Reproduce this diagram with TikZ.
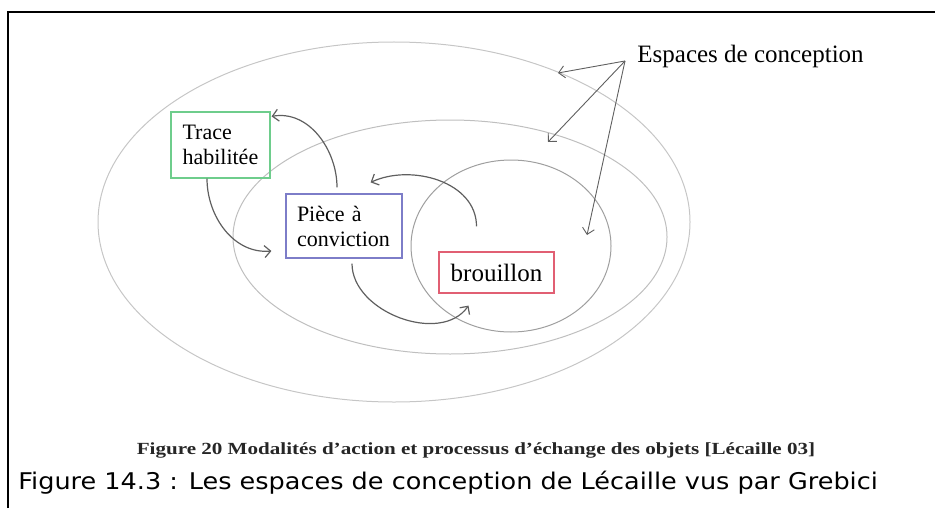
\documentclass[tikz,border=0pt]{standalone}
\usepackage{fontspec}
\setmainfont{Liberation Serif}
\newfontfamily\capfont[FakeStretch=1.11]{DejaVu Sans}
\newfontfamily\figfont[FakeStretch=1.24]{Liberation Serif}
\usetikzlibrary{arrows.meta, positioning}
\definecolor{tracegreen}{RGB}{110,205,140}
\definecolor{pieceblue}{RGB}{125,125,200}
\definecolor{draftred}{RGB}{225,95,115}
\definecolor{flowgray}{RGB}{95,95,95}

\begin{document}
\begin{tikzpicture}[x=0.5pt, y=-0.5pt, >={Straight Barb[length=3pt, width=6pt]},
  box/.style={draw, line width=0.6pt, inner sep=0pt, align=left,
              font=\fontsize{11}{12.5}\selectfont},
  space/.style={line width=0.5pt},
  flow/.style={->, flowgray, line width=0.6pt},
  pointer/.style={->, flowgray, line width=0.45pt}]
  \useasboundingbox (0,0) rectangle (935,508);

  % frame
  \draw[line width=1pt] (8,508) -- (8,12) -- (935,12);

  % design spaces
  \draw[space, gray!45] (394,222) ellipse [x radius=296, y radius=180];
  \draw[space, gray!50] (450,237) ellipse [x radius=217, y radius=117];
  \draw[space, gray!75] (511,246) ellipse [x radius=100, y radius=86];

  % objects
  \node[box, tracegreen, text=black, minimum width=49.5pt, minimum height=33pt,
        text width=38pt] (th) at (220.5,145) {Trace\\habilitée};
  \node[box, pieceblue, text=black, minimum width=58pt, minimum height=32pt,
        text width=47pt] (pc) at (344,226) {Pièce à\\conviction};
  \node[box, draftred, text=black, minimum width=57.5pt, minimum height=20.5pt,
        font=\fontsize{12.5}{14}\selectfont] (br) at (496.5,272.5) {brouillon};

  % exchanges
  \draw[flow] ([xshift=-3.5pt, yshift=3pt]pc.north)
    to[out=90, in=10] ([xshift=0.5pt, yshift=-2.5pt]th.north east);
  \draw[flow] ([xshift=-6.75pt]th.south)
    to[out=-90, in=185] ([xshift=-7pt, yshift=-12.5pt]pc.west);
  \draw[flow] ([xshift=-10pt, yshift=12.5pt]br.north)
    to[out=90, in=25] ([xshift=-16pt, yshift=5.5pt]pc.north east);
  \draw[flow] ([xshift=4pt, yshift=-2.5pt]pc.south)
    to[out=-90, in=235] ([xshift=-14pt, yshift=-6pt]br.south);

  % label
  \node[inner sep=0pt, anchor=base west, font=\fontsize{12.5}{14}\selectfont]
    (esp) at (637,62) {Espaces de conception};
  \coordinate (e1) at (558,73);
  \coordinate (e2) at (548,142);
  \coordinate (e3) at (587,235);
  \draw[pointer] ([xshift=-6pt, yshift=-2.5pt]esp.west) -- (e1);
  \draw[pointer] ([xshift=-6pt, yshift=-2.5pt]esp.west) -- (e2);
  \draw[pointer] ([xshift=-6pt, yshift=-2.5pt]esp.west) -- (e3);

  % captions
  \node[inner sep=0pt, anchor=base, text=black!85,
        font=\figfont\fontsize{8.5}{10}\selectfont\bfseries]
    (cap1) at (476,454)
    {Figure 20 Modalités d’action et processus d’échange des objets [Lécaille 03]};
  \node[inner sep=0pt, anchor=base west, font=\capfont\fontsize{11.5}{13}\selectfont]
    (cap2) at (18,489)
    {Figure 14.3 : Les espaces de conception de Lécaille vus par Grebici};
\end{tikzpicture}
\end{document}
